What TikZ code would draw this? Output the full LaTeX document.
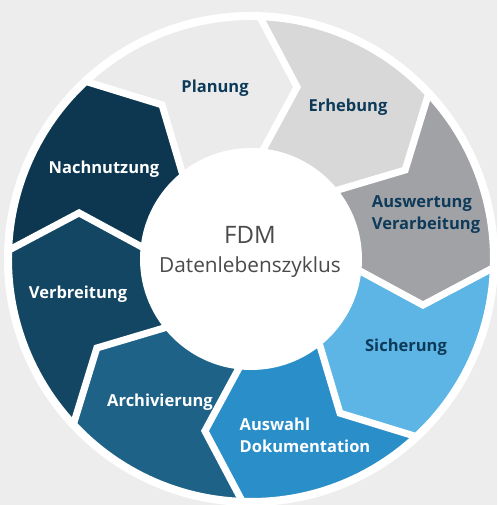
\documentclass[tikz,border=0pt]{standalone}
\usepackage{fontspec}
\setmainfont{Open Sans}

\definecolor{bgGray}{HTML}{ECEDEC}
\definecolor{cPlan}{HTML}{EAEBEA}
\definecolor{cErheb}{HTML}{D7D8D7}
\definecolor{cAusw}{HTML}{A1A2A6}
\definecolor{cSich}{HTML}{5CB5E4}
\definecolor{cDoku}{HTML}{2A8FC8}
\definecolor{cArch}{HTML}{1E6287}
\definecolor{cVerb}{HTML}{124662}
\definecolor{cNach}{HTML}{0D3750}
\definecolor{txtDark}{HTML}{0E3A5A}
\definecolor{txtHub}{HTML}{4A4A4A}

\begin{document}
\begin{tikzpicture}
[
    x=1pt, y=1pt,
    gap/.style={draw=white, line width=7pt, line join=miter},
    label/.style={font=\fontsize{16.5}{22}\selectfont\bfseries, align=left, inner sep=0pt},
    dark/.style={label, text=txtDark},
    light/.style={label, text=white},
    hub/.style={circle, fill=white, minimum size=222pt, inner sep=0pt},
    hubtext/.style={text=txtHub, inner sep=0pt},
]
\fill[bgGray] (-251,-246) rectangle (246,259);
\useasboundingbox (-251,-246) rectangle (246,259);

\coordinate (t1) at (75:178);  \coordinate (i1) at (86:100);
\coordinate (t2) at (30:178);  \coordinate (i2) at (41:100);
\coordinate (t3) at (-15:178); \coordinate (i3) at (-4:100);
\coordinate (t4) at (-60:178); \coordinate (i4) at (-49:100);
\coordinate (t5) at (-105:178); \coordinate (i5) at (-94:100);
\coordinate (t6) at (-150:178); \coordinate (i6) at (-139:100);
\coordinate (t7) at (165:178); \coordinate (i7) at (176:100);
\coordinate (t8) at (120:178); \coordinate (i8) at (131:100);

\fill[cPlan] (133:243) arc[start angle=133, end angle=88, radius=243]
    -- (t1) -- (i1) -- (i8) -- (t8) -- cycle;
\fill[cErheb] (88:243) arc[start angle=88, end angle=43, radius=243]
    -- (t2) -- (i2) -- (i1) -- (t1) -- cycle;
\fill[cAusw] (43:243) arc[start angle=43, end angle=-2, radius=243]
    -- (t3) -- (i3) -- (i2) -- (t2) -- cycle;
\fill[cSich] (-2:243) arc[start angle=-2, end angle=-47, radius=243]
    -- (t4) -- (i4) -- (i3) -- (t3) -- cycle;
\fill[cDoku] (-47:243) arc[start angle=-47, end angle=-92, radius=243]
    -- (t5) -- (i5) -- (i4) -- (t4) -- cycle;
\fill[cArch] (-92:243) arc[start angle=-92, end angle=-137, radius=243]
    -- (t6) -- (i6) -- (i5) -- (t5) -- cycle;
\fill[cVerb] (-137:243) arc[start angle=-137, end angle=-182, radius=243]
    -- (t7) -- (i7) -- (i6) -- (t6) -- cycle;
\fill[cNach] (178:243) arc[start angle=178, end angle=133, radius=243]
    -- (t8) -- (i8) -- (i7) -- (t7) -- cycle;

\draw[gap] (88:243) -- (t1) -- (i1);
\draw[gap] (43:243) -- (t2) -- (i2);
\draw[gap] (-2:243) -- (t3) -- (i3);
\draw[gap] (-47:243) -- (t4) -- (i4);
\draw[gap] (-92:243) -- (t5) -- (i5);
\draw[gap] (-137:243) -- (t6) -- (i6);
\draw[gap] (178:243) -- (t7) -- (i7);
\draw[gap] (133:243) -- (t8) -- (i8);
\draw[white, line width=8pt] (0,0) circle[radius=243];

\node[hub] (hub) at (0,0) {};
\node[hubtext, font=\fontsize{24}{28}\selectfont] (fdm) at (-1,24) {FDM};
\node[hubtext, font=\fontsize{20.8}{25}\selectfont] (zyklus) at (-1,-8) {Datenlebenszyklus};

\node[dark] (planung) at (-36,171) {Planung};
\node[dark] (erhebung) at (97,152) {Erhebung};
\node[dark] (auswertung) at (175,44) {Auswertung\\Verarbeitung};
\node[dark] (sicherung) at (155,-88) {Sicherung};
\node[light] (auswahl) at (54,-176) {Auswahl\\Dokumentation};
\node[light] (archiv) at (-91,-143) {Archivierung};
\node[light] (verbreitung) at (-173,-35) {Verbreitung};
\node[light] (nachnutzung) at (-147,90) {Nachnutzung};
\end{tikzpicture}
\end{document}
